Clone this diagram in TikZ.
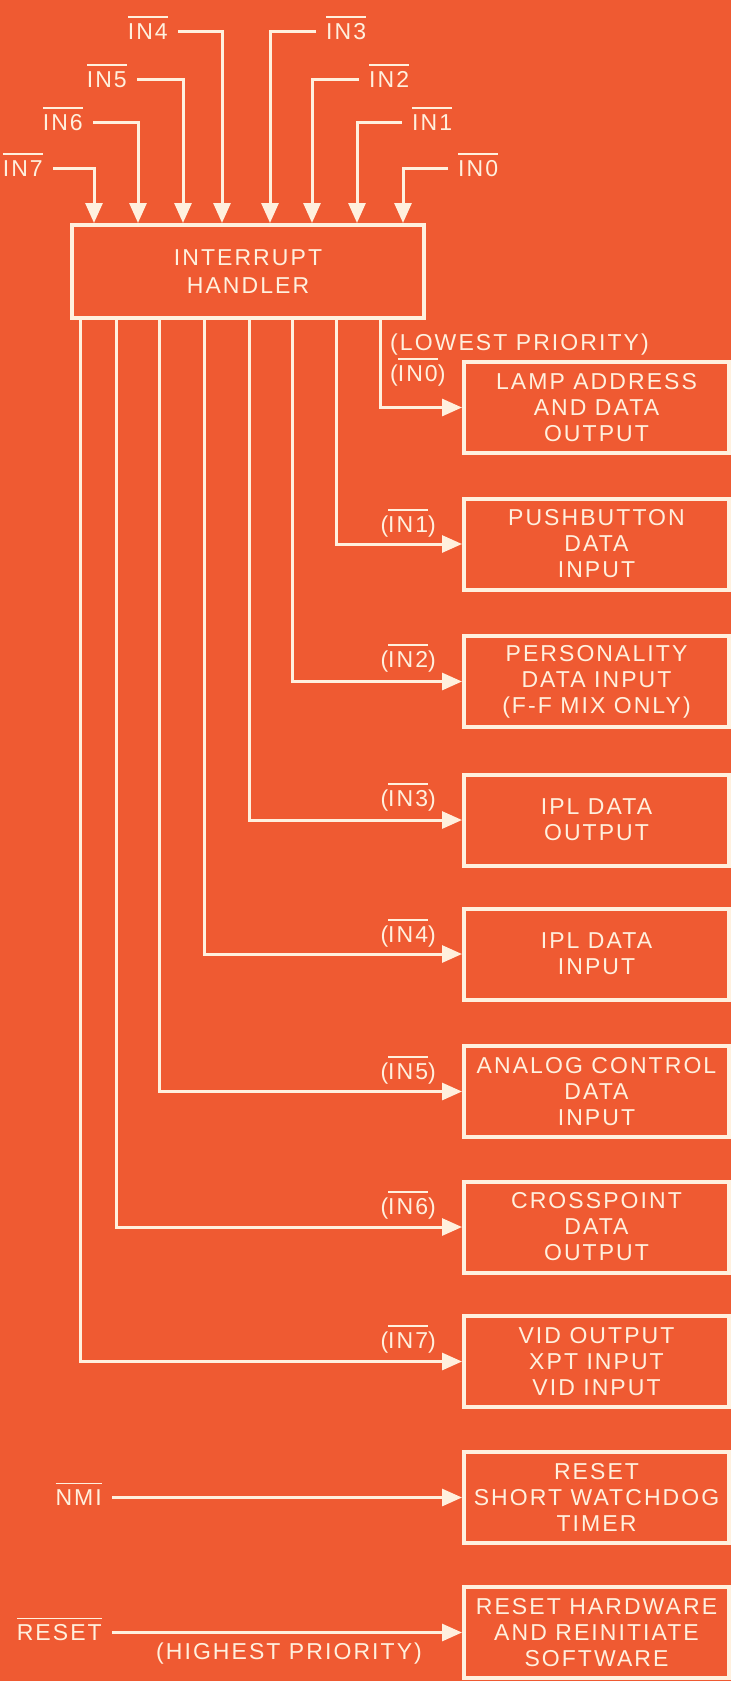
\documentclass[tikz,border=0pt]{standalone}
\usepackage{fontspec}
\setmainfont{Liberation Sans}[LetterSpace=9]
\usetikzlibrary{arrows.meta}
\definecolor{bg}{RGB}{239,90,50}
\definecolor{fg}{RGB}{255,240,222}
\newsavebox\ovlbox
\newcommand\ovl[1]{\sbox\ovlbox{#1}\rlap{\rule[21.5pt]{\wd\ovlbox}{1.6pt}}\usebox\ovlbox}
\begin{document}
\begin{tikzpicture}[x=1pt,y=-1pt,
  every node/.style={text=fg, font=\fontsize{23}{26}\selectfont},
  box/.style={draw=fg, line width=4pt, minimum width=265pt, minimum height=91pt, align=center, inner sep=0pt},
  hbox/.style={draw=fg, line width=4pt, minimum width=352pt, minimum height=93pt, align=center, inner sep=0pt, font=\fontsize{23}{28}\selectfont},
  lab/.style={text height=16.5pt, text depth=0pt, inner ysep=0pt, inner xsep=10pt},
  plab/.style={text height=16.5pt, text depth=0pt, inner sep=0pt},
  wire/.style={draw=fg, line width=3pt},
  arr/.style={wire, -{Triangle[width=17pt,length=20pt]}},
]
\useasboundingbox (0,0) rectangle (731,1681);
\fill[bg] (0,0) rectangle (731,1681);

% handler
\node[hbox] (h) at (248,271.5) {INTERRUPT\\HANDLER};

% output boxes
\node[box] (b1) at (596.5,407.5) {LAMP ADDRESS\\AND DATA\\OUTPUT};
\node[box] (b2) at (596.5,544) {PUSHBUTTON\\DATA\\INPUT};
\node[box] (b3) at (596.5,681.5) {PERSONALITY\\DATA INPUT\\(F-F MIX ONLY)};
\node[box] (b4) at (596.5,820) {IPL DATA\\OUTPUT};
\node[box] (b5) at (596.5,954) {IPL DATA\\INPUT};
\node[box] (b6) at (596.5,1091.5) {ANALOG CONTROL\\DATA\\INPUT};
\node[box] (b7) at (596.5,1227) {CROSSPOINT\\DATA\\OUTPUT};
\node[box] (b8) at (596.5,1361.5) {VID OUTPUT\\XPT INPUT\\VID INPUT};
\node[box] (b9) at (596.5,1497.5) {RESET\\SHORT WATCHDOG\\TIMER};
\node[box] (b10) at (596.5,1632.5) {RESET HARDWARE\\AND REINITIATE\\SOFTWARE};

% input x positions
\coordinate (i7) at (94,0);
\coordinate (i6) at (138,0);
\coordinate (i5) at (183,0);
\coordinate (i4) at (222,0);
\coordinate (i3) at (270,0);
\coordinate (i2) at (312,0);
\coordinate (i1) at (357,0);
\coordinate (i0) at (403,0);

% input labels
\node[lab, anchor=east] (l7) at (53,168) {\ovl{IN7}};
\node[lab, anchor=east] (l6) at (93,122) {\ovl{IN6}};
\node[lab, anchor=east] (l5) at (137,79) {\ovl{IN5}};
\node[lab, anchor=east] (l4) at (178,31) {\ovl{IN4}};
\node[lab, anchor=west] (l3) at (316,31) {\ovl{IN3}};
\node[lab, anchor=west] (l2) at (359,79) {\ovl{IN2}};
\node[lab, anchor=west] (l1) at (402,122) {\ovl{IN1}};
\node[lab, anchor=west] (l0) at (448,168) {\ovl{IN0}};

\foreach \k in {0,...,7} {
  \draw[arr] (l\k) -| (h.north -| i\k);
}

% output x positions
\coordinate (o7) at (80,0);
\coordinate (o6) at (116,0);
\coordinate (o5) at (159,0);
\coordinate (o4) at (204,0);
\coordinate (o3) at (249,0);
\coordinate (o2) at (292,0);
\coordinate (o1) at (336,0);
\coordinate (o0) at (380,0);

\draw[arr] (h.south -| o0) |- (b1.west);
\draw[arr] (h.south -| o1) |- (b2.west);
\draw[arr] (h.south -| o2) |- (b3.west);
\draw[arr] (h.south -| o3) |- (b4.west);
\draw[arr] (h.south -| o4) |- (b5.west);
\draw[arr] (h.south -| o5) |- (b6.west);
\draw[arr] (h.south -| o6) |- (b7.west);
\draw[arr] (h.south -| o7) |- (b8.west);

% priority labels
\node[plab, anchor=west] (low) at (390,342) {(LOWEST PRIORITY)};
\node[plab, anchor=west] (p0) at (390,373) {(\ovl{IN0})};
\node[plab, anchor=east] (p1) at (436,524) {(\ovl{IN1})};
\node[plab, anchor=east] (p2) at (436,659) {(\ovl{IN2})};
\node[plab, anchor=east] (p3) at (436,798) {(\ovl{IN3})};
\node[plab, anchor=east] (p4) at (436,934) {(\ovl{IN4})};
\node[plab, anchor=east] (p5) at (436,1071) {(\ovl{IN5})};
\node[plab, anchor=east] (p6) at (436,1206) {(\ovl{IN6})};
\node[plab, anchor=east] (p7) at (436,1340) {(\ovl{IN7})};

% NMI and RESET
\node[lab, anchor=east] (nmi) at (112,1497.5) {\ovl{NMI}};
\node[lab, anchor=east] (rst) at (112,1632.5) {\ovl{RESET}};
\draw[arr] (nmi) -- (b9.west);
\draw[arr] (rst) -- (b10.west);
\node[plab] (high) at (289,1651) {(HIGHEST PRIORITY)};
\end{tikzpicture}
\end{document}
